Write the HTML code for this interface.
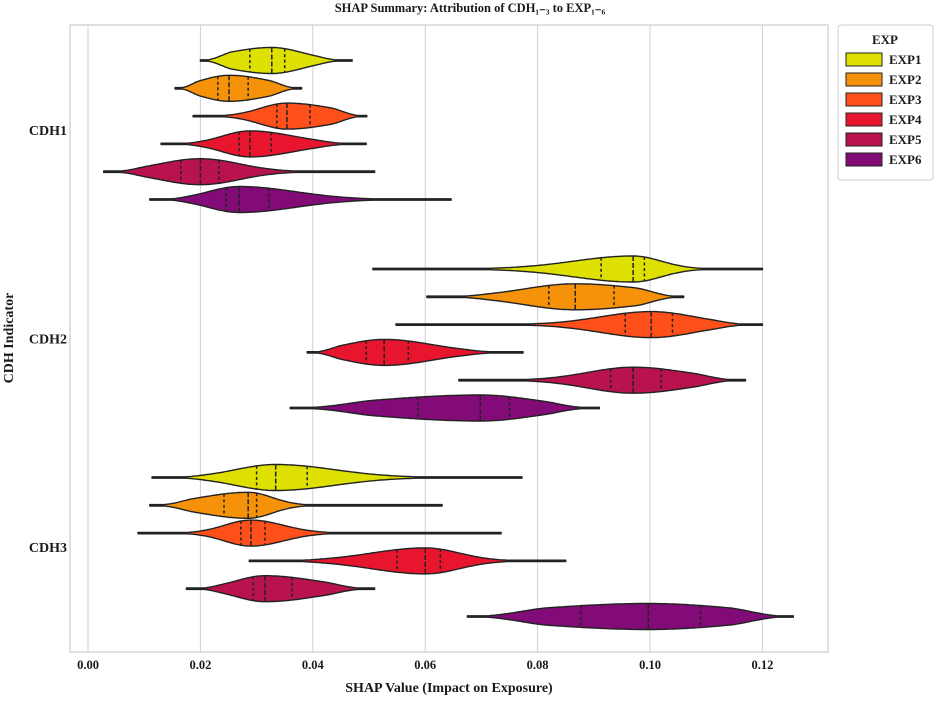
<!DOCTYPE html>
<html><head><meta charset="utf-8"><style>
body{margin:0;background:#fff;}
svg text{font-family:"Liberation Serif",serif;font-weight:bold;fill:#1a1a1a;}
</style></head><body>
<svg id="chart" width="941" height="697" xmlns="http://www.w3.org/2000/svg">
<text x="470" y="12" font-size="12.5" text-anchor="middle">SHAP Summary: Attribution of CDH₁₋₃ to EXP₁₋₆</text>
<rect x="70" y="25" width="758" height="627" fill="none" stroke="#ccc" stroke-width="1.2"/>
<g id="grid"></g><g id="violins"></g><g id="axes"></g>
<text x="449" y="692" font-size="14" text-anchor="middle">SHAP Value (Impact on Exposure)</text>
<text transform="translate(13,338) rotate(-90)" font-size="14" text-anchor="middle">CDH Indicator</text>
<g>
<rect x="838" y="25" width="95" height="155" fill="#fff" stroke="#ccc" rx="3"/>
<text x="885" y="44" font-size="13" text-anchor="middle">EXP</text>
<g id="legend"></g>
</g>
</svg>
<script>
const categories = ["CDH1","CDH2","CDH3"];
const series = ["EXP1","EXP2","EXP3","EXP4","EXP5","EXP6"];
const colors = ["#dde000","#f5920a","#ff4f1a","#e8152f","#b8134f","#820b78"];
const xTicks = [0,0.02,0.04,0.06,0.08,0.10,0.12];
const xTickLabels = ["0.00","0.02","0.04","0.06","0.08","0.10","0.12"];
// per category, per series
const minVals = [[0.020,0.0155,0.0187,0.013,0.0028,0.011],[0.0507,0.0603,0.0548,0.039,0.066,0.036],[0.0114,0.011,0.0089,0.0287,0.0175,0.0675]];
const maxVals = [[0.047,0.038,0.0496,0.0495,0.051,0.0646],[0.120,0.106,0.120,0.0774,0.117,0.091],[0.0772,0.063,0.0735,0.085,0.051,0.1255]];
const q1Vals = [[0.0288,0.0231,0.0336,0.0269,0.0165,0.0246],[0.0913,0.082,0.0956,0.0495,0.093,0.0587],[0.030,0.0242,0.0272,0.055,0.0294,0.0877]];
const medVals = [[0.0327,0.0251,0.0354,0.0288,0.020,0.0269],[0.097,0.0867,0.1002,0.0527,0.097,0.0698],[0.0334,0.0285,0.029,0.060,0.0315,0.0997]];
const q3Vals = [[0.035,0.0285,0.0395,0.0326,0.0233,0.0322],[0.099,0.0936,0.104,0.057,0.102,0.075],[0.039,0.030,0.0315,0.0627,0.0363,0.109]];

const svg = document.getElementById('chart');
const NS = "http://www.w3.org/2000/svg";
const X0 = 88, XK = 5620;
const xs = v => X0 + v * XK;
const catY = i => 130 + i * 208.5;
const rowY = (i, j) => catY(i) + (j - 2.5) * 27.8;
function mk(tag, attrs, parent){const e=document.createElementNS(NS,tag);for(const k in attrs)e.setAttribute(k,attrs[k]);parent.appendChild(e);return e;}

const grid = document.getElementById('grid'), axes = document.getElementById('axes');
xTicks.forEach((t, k) => {
  const g = mk('line',{x1:xs(t),x2:xs(t),y1:25,y2:652,stroke:'#d0d0d0','stroke-width':1},grid);
  
  
  const tx = mk('text',{x:xs(t),y:669,'font-size':12.5,'text-anchor':'middle'},axes);
  tx.textContent = xTickLabels[k];
  
  
});
categories.forEach((c, i) => {
  const tx = mk('text',{x:67,y:catY(i)+5,'font-size':14,'text-anchor':'end'},axes);
  tx.textContent = c;
  
  
});

const vg = document.getElementById('violins');
categories.forEach((c, i) => {
  series.forEach((s, j) => {
    const mn = minVals[i][j], mx = maxVals[i][j], q1 = q1Vals[i][j], md = medVals[i][j], q3 = q3Vals[i][j];
    const sL = 1.5*(md-q1)+0.002, sR = 1.5*(q3-md)+0.002;
    const dens = v => {
      const s2 = v < md ? sL : sR;
      const edge = v < md ? (v-mn)/(md-mn) : (mx-v)/(mx-md);
      const e = Math.max(0, Math.min(1, edge/0.45));
      const taper = e*e*(3-2*e);
      return Math.exp(-0.5*((v-md)/s2)**2) * taper;
    };
    const y = rowY(i, j), hw = 13;
    const N = 150, top = [], bot = [];
    for (let k = 0; k <= N; k++) {
      const v = mn + (mx - mn) * k / N;
      const w = Math.max(dens(v) * hw, 0.7);
      top.push(xs(v).toFixed(1) + ',' + (y - w).toFixed(1));
      bot.unshift(xs(v).toFixed(1) + ',' + (y + w).toFixed(1));
    }
    const p = mk('path',{d:'M'+top.join('L')+'L'+bot.join('L')+'Z',fill:colors[j],stroke:'#222','stroke-width':1.4,'stroke-linejoin':'round'},vg);
    
    
    [[q1,'3,2.5'],[md,'5,2'],[q3,'3,2.5']].forEach(([q,da]) => {
      const w = dens(q) * hw;
      const l = mk('line',{x1:xs(q),x2:xs(q),y1:y-w,y2:y+w,stroke:'#222','stroke-width':1.5,'stroke-dasharray':da},vg);
      
      
    });
  });
});

const lg = document.getElementById('legend');
series.forEach((s, j) => {
  const y = 53 + j * 20;
  const r = mk('rect',{x:846,y:y,width:36,height:13,fill:colors[j],stroke:'#222','stroke-width':1},lg);
  
  
  const t = mk('text',{x:889,y:y+11,'font-size':13},lg);
  t.textContent = s;
  
  
});
</script>
</body></html>
